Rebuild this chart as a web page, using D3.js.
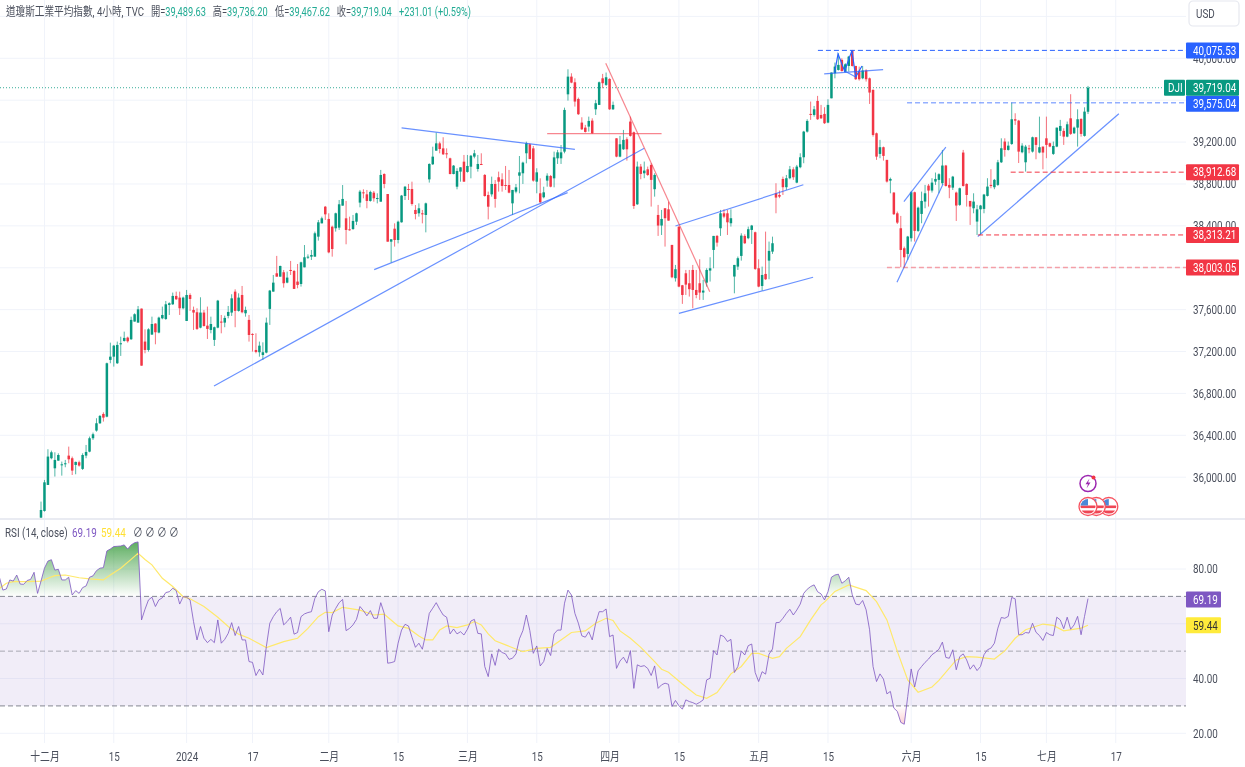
<!DOCTYPE html>
<html>
<head>
<meta charset="utf-8">
<script src="https://cdn.jsdelivr.net/npm/d3@7/dist/d3.min.js"></script>
<style>
  html, body { margin: 0; padding: 0; background: #fff; }
  svg { display: block; filter: blur(0.35px); }
  text { font-family: Roboto, "Noto Sans CJK TC", sans-serif; font-size: 12px; }
</style>
</head>
<body>
<svg id="chart" width="1245" height="767"></svg>
<script>
// candles, bar by bar
var opens = [
35614,35678,35926,36181,36085,36158,36114,36127,36206,36181,
36117,36143,36079,36206,36244,36372,36445,36515,36604,36578,
37120,37151,37088,37269,37301,37333,37317,37486,37476,37610,
37295,37215,37362,37467,37381,37517,37511,37645,37651,37731,
37715,37613,37492,37740,37597,37575,37428,37572,37447,37406,
37311,37428,37486,37476,37540,37572,37772,37588,37740,37565,
37502,37368,37215,37193,37167,37190,37607,37772,37947,37915,
37957,37858,37979,37969,37868,37845,38004,38096,38106,38106,
38297,38424,38583,38466,38392,38377,38383,38593,38472,38367,
38370,38440,38622,38720,38701,38638,38717,38660,38631,38895,
38704,38249,38373,38265,38434,38685,38752,38752,38552,38520,
38520,38504,38844,38988,39118,39188,39140,39093,39045,38895,
38774,38918,39013,38915,38965,39061,38943,38991,38886,38695,
38701,38800,38864,38844,38790,38790,38615,38727,38879,38902,
39093,39179,39140,38822,38711,38673,38832,38876,38854,39045,
39045,39109,39656,39825,39771,39612,39386,39338,39348,39405,
39513,39555,39809,39746,39803,39513,39236,39061,39131,39227,
39396,39294,38606,38966,38902,38940,38982,38750,38504,38403,
38568,38558,38218,37900,38393,37833,37947,37852,37979,37788,
37852,37763,37858,37973,38170,38304,38377,38520,38520,38425,
37916,38011,38113,38304,38282,38361,38339,37995,37826,37941,
38068,38154,38711,38695,38848,38769,38855,38940,38813,38960,
39055,39300,39469,39459,39593,39459,39469,39386,39618,39857,
39889,39985,39873,39927,40074,39927,39873,39809,39883,39809,
39698,39284,39087,39151,39030,38832,38718,38520,38377,38186,
38132,38282,38721,38352,38514,38632,38784,38737,38823,38839,
38807,38976,38791,38765,38718,38600,39100,38800,38638,38568,
38441,38558,38562,38686,38791,38769,38791,39007,39205,39125,
39182,39418,39405,39103,39007,39141,39109,39246,39100,39157,
39236,39189,39087,39157,39307,39307,39252,39427,39284,39338,
39421,39259,39489.63];
var highs = [
35767,35974,36267,36254,36238,36228,36149,36165,36292,36197,
36149,36158,36228,36308,36388,36426,36563,36594,36620,37094,
37285,37263,37295,37342,37390,37342,37533,37565,37635,37610,
37412,37422,37533,37470,37533,37629,37683,37670,37763,37772,
37772,37724,37788,37756,37629,37613,37718,37597,37629,37533,
37438,37693,37549,37543,37635,37747,37794,37756,37826,37629,
37549,37374,37374,37295,37288,37524,37788,37931,38113,38020,
37979,37963,38065,37979,38036,38058,38217,38128,38170,38345,
38456,38488,38590,38520,38402,38526,38647,38790,38638,38488,
38504,38526,38743,38749,38743,38736,38733,38711,38934,38902,
38704,38272,38424,38450,38695,38781,38800,38822,38599,38615,
38552,38622,38997,39156,39290,39204,39246,39140,39051,38981,
38950,38959,39077,39077,39077,39125,39077,39093,38895,38727,
38870,38838,38918,38902,38972,38934,38743,38800,39067,39013,
39204,39188,39163,38950,38854,38774,38902,38886,39109,39125,
39172,39529,39895,39857,39809,39625,39437,39364,39443,39427,
39603,39778,39851,39864,39809,39587,39236,39259,39316,39246,
39443,39300,39014,38991,39014,38966,38998,38902,38600,38552,
38568,38632,38218,38027,38393,37836,37979,37979,38027,37979,
38081,37884,37995,38100,38304,38313,38552,38558,38552,38558,
38027,38107,38329,38320,38393,38409,38345,38081,38011,38345,
38250,38297,38807,38737,38870,38886,38972,38960,38982,39093,
39307,39418,39587,39545,39641,39555,39533,39609,39864,39959,
40048,40000,39953,40023,40080,39927,39921,39927,39895,39816,
39704,39291,39221,39157,39030,38861,38721,38536,38495,38202,
38304,38734,38727,38584,38727,38791,38800,38855,38909,38902,
39125,38982,38855,38877,38727,38765,39125,38807,38638,38711,
38600,38600,38705,38855,38941,38848,39030,39236,39236,39205,
39577,39475,39412,39189,39173,39173,39252,39246,39443,39157,
39443,39195,39205,39338,39412,39332,39396,39657,39348,39513,
39427,39532,39736.2];
var lows = [
35608,35671,35926,36171,36006,36158,36015,36095,36133,36021,
36028,36101,36069,36181,36238,36356,36435,36508,36531,36572,
37088,37056,37081,37158,37295,37285,37311,37486,37476,37065,
37183,37199,37358,37269,37374,37508,37502,37549,37645,37693,
37549,37603,37492,37588,37406,37406,37422,37438,37320,37374,
37253,37422,37374,37432,37517,37540,37432,37581,37565,37533,
37295,37199,37183,37151,37120,37183,37454,37772,37915,37915,
37810,37852,37931,37798,37804,37820,38004,38084,38074,38106,
38259,38424,38456,38138,38106,38345,38361,38593,38224,38354,
38361,38408,38577,38663,38568,38631,38631,38615,38631,38759,
38249,38049,38202,38233,38431,38647,38647,38593,38462,38488,
38424,38338,38813,38981,39118,39093,39077,39045,38892,38892,
38749,38822,38822,38908,38854,39045,38918,38981,38679,38462,
38679,38574,38727,38727,38743,38711,38504,38711,38711,38800,
38997,39036,38822,38711,38615,38663,38774,38768,38768,38991,
38991,39093,39596,39762,39539,39459,39316,39291,39300,39278,
39459,39555,39714,39736,39507,39507,39055,39055,39125,39023,
39252,38562,38600,38845,38855,38877,38584,38679,38304,38313,
38202,38450,37900,37868,37814,37655,37740,37725,37613,37709,
37693,37693,37820,37868,37995,38202,38304,38473,38313,38393,
37756,37979,38068,38227,38272,38227,37979,37814,37782,37884,
37890,38132,38520,38664,38695,38743,38845,38839,38807,38950,
38998,39291,39412,39443,39412,39421,39373,39380,39618,39809,
39883,39873,39864,39873,39921,39794,39787,39800,39778,39564,
39252,39030,39046,39023,38813,38711,38504,38418,38005,38005,
38075,38250,38250,38342,38425,38568,38584,38718,38791,38711,
38791,38775,38664,38743,38447,38590,38775,38584,38409,38520,
38313,38313,38520,38680,38759,38750,38781,39000,39061,39119,
39173,39364,39000,39093,38918,39093,39100,39036,39093,38940,
39046,39151,39077,39151,39259,39173,39246,39268,39278,39157,
39252,39252,39467.62];
var closes = [
35687,35951,36197,36238,36165,36212,36123,36133,36171,36063,
36146,36111,36212,36241,36372,36410,36515,36585,36569,37088,
37151,37256,37263,37279,37330,37298,37502,37556,37603,37065,
37215,37412,37463,37384,37524,37549,37651,37661,37731,37699,
37613,37715,37740,37702,37572,37416,37572,37444,37416,37463,
37432,37686,37476,37521,37578,37708,37588,37715,37575,37597,
37358,37362,37196,37256,37193,37476,37782,37858,37915,38017,
37852,37906,37969,37798,37836,38052,38100,38106,38122,38329,
38434,38472,38510,38147,38179,38520,38606,38657,38361,38361,
38447,38520,38727,38711,38638,38724,38663,38666,38886,38800,
38249,38272,38265,38440,38689,38774,38743,38609,38513,38568,
38510,38615,38991,39061,39188,39134,39083,39083,38895,38975,
38924,38959,38822,38972,39070,39093,38991,38981,38685,38583,
38800,38657,38822,38781,38781,38717,38743,38768,38911,39004,
39188,39039,38832,38911,38625,38720,38879,38774,39054,39102,
39102,39507,39825,39768,39587,39466,39322,39297,39402,39284,
39571,39771,39762,39819,39513,39555,39061,39179,39221,39131,
39259,38590,38966,38896,38928,38886,38839,38886,38403,38466,
38473,38450,37909,37986,37820,37740,37839,37795,37788,37740,
37763,37782,37979,37995,38304,38240,38520,38488,38434,38473,
38027,38091,38307,38234,38368,38403,37989,37820,37931,37890,
38161,38234,38670,38679,38769,38855,38940,38864,38966,39055,
39300,39402,39459,39513,39418,39427,39380,39555,39864,39921,
39937,39879,39943,40016,39927,39800,39800,39883,39800,39673,
39268,39061,39151,39068,38823,38848,38511,38431,38170,38100,
38298,38721,38352,38574,38638,38711,38737,38813,38848,38893,
38976,38781,38765,38870,38594,38759,38781,38695,38584,38632,
38558,38594,38699,38775,38781,38839,39007,39141,39125,39166,
39418,39405,39109,39166,39157,39131,39246,39173,39151,39100,
39173,39157,39163,39338,39354,39252,39370,39278,39338,39418,
39278,39491,39719.04];

// rsi starts 12 bars before the first visible candle
var rsiFirstBar = -12;
var rsiValues = [
77.0,72.3,72.7,76.0,75.6,77.8,74.5,74.4,75.8,76.2,
78.8,71.1,75.6,80.3,82.9,83.4,79.6,79.9,76.0,76.0,
77.0,70.5,72.1,71.1,73.2,73.8,77.0,77.5,79.4,80.3,
80.5,86.6,87.3,88.2,88.3,88.4,88.8,87.3,88.8,89.6,
89.9,61.4,65.3,68.7,69.7,66.3,68.7,69.5,71.4,71.7,
73.0,72.1,67.2,69.9,69.7,68.7,60.8,54.1,59.0,54.7,
53.1,54.3,53.1,61.4,52.9,54.3,56.5,60.4,55.7,59.0,
54.1,54.1,46.2,45.9,41.1,43.4,41.3,51.7,60.2,62.6,
64.4,65.6,59.6,60.8,62.4,56.2,56.8,62.6,63.6,64.1,
64.4,69.3,71.7,72.6,72.0,57.1,63.2,65.6,67.7,68.9,
57.5,58.3,59.6,61.6,66.3,64.8,62.9,64.8,62.0,62.0,
67.7,63.8,45.6,45.8,46.2,52.9,57.7,59.8,59.2,55.1,
51.4,52.9,
50.7,56.5,63.8,65.7,67.7,65.3,63.2,62.4,56.3,58.1,
56.3,57.1,55.9,58.0,61.0,61.6,56.5,56.3,44.4,40.7,
49.0,44.8,50.7,49.5,49.0,47.0,47.4,49.0,54.5,57.5,
63.2,57.5,49.2,51.9,44.6,46.2,51.0,48.4,56.3,57.7,
57.7,67.5,72.3,70.5,63.8,60.2,55.6,55.1,57.1,54.1,
60.2,64.4,64.4,65.4,55.3,55.9,43.7,46.4,47.8,45.6,
50.2,36.4,45.0,44.4,44.7,43.7,41.1,44.6,36.4,37.7,
38.3,37.9,29.8,32.0,30.1,28.8,32.2,31.6,31.2,30.6,
31.3,32.2,39.5,40.1,50.2,48.6,55.9,55.3,53.5,54.3,
42.2,44.4,50.1,48.6,52.0,52.6,42.2,38.9,42.5,41.6,
48.9,50.8,60.4,60.5,62.0,63.8,65.3,63.2,65.0,67.2,
71.1,72.6,73.6,74.2,71.7,70.9,68.7,71.7,77.0,77.8,
78.1,
74.8,75.7,77.0,70.6,67.2,66.9,68.5,65.1,57.8,44.4,
38.9,41.7,39.8,34.4,35.3,29.2,28.0,24.0,23.3,33.4,
43.5,36.9,42.8,44.4,45.9,47.1,48.7,49.6,50.7,53.3,
47.7,47.4,50.5,43.2,48.0,49.0,46.8,43.4,45.0,42.9,
44.4,48.7,50.5,51.1,52.9,58.4,62.3,62.0,62.7,69.6,
69.1,56.0,56.0,56.8,56.6,60.2,56.9,55.7,53.9,56.8,
56.0,55.7,62.4,61.4,58.2,62.4,58.0,59.6,62.7,56.0,
62.7,69.19];

// yellow average, read at the bars where it bends
var maBars = [-12,-10,-8,-4,0,2,4,7,11,14,18,20,23,26,28,30,32,35,38,41,43,47,51,54,57,60,65,70,74,77,80,82,84,87,92,96,99,103,106,109,
111,113,115,117,120,123,125,127,129,131,134,139,143,147,150,153,157,160,163,165,167,170,173,177,179,181,185,189,192,195,199,202,205,207,211,213,215,219,222,225,
226,229,233,238,241,244,247,250,253,257,259,264,267,270,275,278,281,284,289,292,295,300,302];
var maValues = [72.9,74.8,75.4,75.4,75.6,76.6,77.6,77.8,76.8,76.4,76.0,77.8,80.3,83.5,85.7,83.5,81.5,76.6,73.6,69.9,69.1,66.3,62.4,59.0,56.2,54.7,51.3,53.5,54.7,58.3,62.6,64.2,64.1,66.0,65.0,63.2,63.5,59.2,58.3,55.5,
54.1,54.1,57.7,59.2,58.6,59.6,60.8,59.6,56.3,53.8,52.3,49.8,51.0,51.4,54.1,56.8,57.4,60.2,62.0,61.2,57.4,54.7,51.4,46.2,43.4,42.3,38.0,34.0,32.8,34.9,41.7,44.4,49.2,49.2,47.4,48.0,51.0,55.3,61.4,66.9,
67.9,71.8,74.2,72.1,68.1,61.4,49.9,39.5,35.0,36.9,39.3,46.8,48.0,47.8,47.1,50.1,54.7,57.8,59.9,59.4,57.4,58.4,59.44];

var priceGrid = [36000,36400,36800,37200,37600,38000,38400,38800,39200,39600,40000,40400];
var priceLabels = [36000,36400,36800,37200,37600,38400,38800,39200,40000];
var rsiGrid = [20,40,60,80];
var rsiLabels = [20,40,80];
var rsiBands = [30,50,70];
var timeBars = [1,21,42,61,83,103,123,143,164,184,207,227,251,271,290,310];
var timeLabels = ["十二月","15","2024","17","二月","15","三月","15","四月","15","五月","15","六月","15","七月","17"];

// drawings: bar, price, bar, price
var blueLines = [
  [49.9,36871,174,39141],
  [96.1,37982,151.9,38717],
  [104,39335,154,39131],
  [183,38399,219.9,38793],
  [184,37565,222.7,37909],
  [225.9,39851,242.9,39892],
  [248.9,38631,261,39151],
  [246.9,37861,260.2,38800],
  [270.2,38299,310.9,39471],
  [231.8,39879,235,39822]
];
var redLines = [
  [146,39280,179,39280],
  [162.9,39953,192.9,37772]
];
var patternBars = [228.9,229.9,231.8,233.9,235,236.8];
var patternPrices = [39860,40042,39879,40073,39822,39927];

var levelPrices = [40075.53,39575.04,38912.68,38313.21,38003.05];
var levelStart = [224.1,249.8,279.7,270.3,244];
var levelColors = ["#2962ff","#2962ff","#f23645","#f23645","#f23645"];
var levelOpacity = [1,0.5,1,1,0.45];
var levelWidth = [1,1.5,1,1,1.5];

var lastPrice = 39719.04, lastRsi = 69.19, lastMa = 59.44;
var eventBars = [302,304.4,308];

var upColor = "#089981", downColor = "#f23645", gridColor = "#f0f3fa";
var textColor = "#4a4f5c";
var paneRight = 1186, tagRight = 1239;

var svg = d3.select("#chart");
var defs = svg.append("defs");

var x = d3.scaleLinear().domain([0,302]).range([41,1088]);
var y = d3.scaleLinear().domain([36000,40000]).range([477.2,58.3]);
var yRsi = d3.scaleLinear().domain([20,80]).range([733.3,569]);

// the text in the reference is narrower than the font, squeeze it
function squeeze(sel, k) {
  sel.each(function() {
    var w = this.getComputedTextLength();
    this.setAttribute("textLength", w * (k || 0.82));
    this.setAttribute("lengthAdjust", "spacingAndGlyphs");
  });
  return sel;
}

defs.append("clipPath").attr("id","clip-price").append("rect")
  .attr("x",0).attr("y",0).attr("width",paneRight).attr("height",518);
defs.append("clipPath").attr("id","clip-over").append("rect")
  .attr("x",0).attr("y",520).attr("width",paneRight).attr("height",yRsi(70)-520);
defs.append("clipPath").attr("id","clip-under").append("rect")
  .attr("x",0).attr("y",yRsi(30)).attr("width",paneRight).attr("height",743-yRsi(30));

var gradOver = defs.append("linearGradient").attr("id","grad-over")
  .attr("gradientUnits","userSpaceOnUse").attr("x1",0).attr("x2",0).attr("y1",yRsi(92)).attr("y2",yRsi(70));
gradOver.append("stop").attr("offset",0).attr("stop-color","#43a047").attr("stop-opacity",0.95);
gradOver.append("stop").attr("offset",1).attr("stop-color","#43a047").attr("stop-opacity",0);
var gradUnder = defs.append("linearGradient").attr("id","grad-under")
  .attr("gradientUnits","userSpaceOnUse").attr("x1",0).attr("x2",0).attr("y1",yRsi(30)).attr("y2",yRsi(20));
gradUnder.append("stop").attr("offset",0).attr("stop-color","#f23645").attr("stop-opacity",0);
gradUnder.append("stop").attr("offset",1).attr("stop-color","#f23645").attr("stop-opacity",0.35);

// grid
var grid = svg.append("g").attr("stroke",gridColor).attr("stroke-width",1);
grid.selectAll(".v").data(timeBars).enter().append("line")
  .attr("x1",function(d){return x(d);}).attr("x2",function(d){return x(d);})
  .attr("y1",0).attr("y2",743);
grid.selectAll(".h").data(priceGrid).enter().append("line")
  .attr("x1",0).attr("x2",paneRight)
  .attr("y1",function(d){return y(d);}).attr("y2",function(d){return y(d);});
grid.selectAll(".r").data(rsiGrid).enter().append("line")
  .attr("x1",0).attr("x2",paneRight)
  .attr("y1",function(d){return yRsi(d);}).attr("y2",function(d){return yRsi(d);});

svg.append("line").attr("x1",0).attr("x2",1245).attr("y1",519).attr("y2",519)
  .attr("stroke","#e9ebf2").attr("stroke-width",2);

// last price dotted line
svg.append("line").attr("x1",0).attr("x2",1164).attr("y1",y(lastPrice)).attr("y2",y(lastPrice))
  .attr("stroke",upColor).attr("stroke-dasharray","1,2").attr("stroke-opacity",0.8);

// candles
var priceLayer = svg.append("g").attr("clip-path","url(#clip-price)");
var candles = priceLayer.selectAll(".candle").data(closes).enter().append("g");
candles.append("line")
  .attr("x1",function(d,i){return x(i);}).attr("x2",function(d,i){return x(i);})
  .attr("y1",function(d,i){return y(highs[i]);}).attr("y2",function(d,i){return y(lows[i]);})
  .attr("stroke",function(d,i){return d>=opens[i]?upColor:downColor;})
  .attr("stroke-width",1).attr("stroke-opacity",0.7);
candles.append("rect")
  .attr("x",function(d,i){return x(i)-1.25;}).attr("width",2.5)
  .attr("y",function(d,i){return y(Math.max(d,opens[i]));})
  .attr("height",function(d,i){return Math.max(1,Math.abs(y(d)-y(opens[i])));})
  .attr("fill",function(d,i){return d>=opens[i]?upColor:downColor;});

// drawings
function drawSegments(list, color, opacity) {
  priceLayer.selectAll(null).data(list).enter().append("line")
    .attr("x1",function(d){return x(d[0]);}).attr("y1",function(d){return y(d[1]);})
    .attr("x2",function(d){return x(d[2]);}).attr("y2",function(d){return y(d[3]);})
    .attr("stroke",color).attr("stroke-opacity",opacity).attr("stroke-width",1.2);
}
drawSegments(blueLines,"#2962ff",0.7);
drawSegments(redLines,"#f23645",0.6);

var patternLine = d3.line().x(function(d,i){return x(patternBars[i]);}).y(function(d){return y(d);});
priceLayer.append("path").attr("d",patternLine(patternPrices))
  .attr("fill","none").attr("stroke","#2962ff").attr("stroke-width",1.2);

priceLayer.selectAll(".level").data(levelPrices).enter().append("line")
  .attr("x1",function(d,i){return x(levelStart[i]);}).attr("x2",paneRight)
  .attr("y1",function(d){return y(d);}).attr("y2",function(d){return y(d);})
  .attr("stroke",function(d,i){return levelColors[i];})
  .attr("stroke-opacity",function(d,i){return levelOpacity[i];})
  .attr("stroke-width",function(d,i){return levelWidth[i];})
  .attr("stroke-dasharray","5,3");

// rsi pane
svg.append("rect").attr("x",0).attr("width",paneRight)
  .attr("y",yRsi(70)).attr("height",yRsi(30)-yRsi(70))
  .attr("fill","#7e57c2").attr("fill-opacity",0.11);
svg.selectAll(".band").data(rsiBands).enter().append("line")
  .attr("x1",0).attr("x2",paneRight)
  .attr("y1",function(d){return yRsi(d);}).attr("y2",function(d){return yRsi(d);})
  .attr("stroke","#787b86").attr("stroke-opacity",function(d){return d==50?0.6:0.9;})
  .attr("stroke-dasharray","5,3");

var rsiX = function(d,i){return x(i+rsiFirstBar);};
svg.append("path").attr("clip-path","url(#clip-over)").attr("fill","url(#grad-over)")
  .attr("d",d3.area().x(rsiX).y0(yRsi(70)).y1(function(d){return yRsi(d);})(rsiValues));
svg.append("path").attr("clip-path","url(#clip-under)").attr("fill","url(#grad-under)")
  .attr("d",d3.area().x(rsiX).y0(yRsi(30)).y1(function(d){return yRsi(d);})(rsiValues));
svg.append("path").attr("fill","none").attr("stroke","#ffe96b").attr("stroke-width",1.2)
  .attr("d",d3.line().x(function(d,i){return x(maBars[i]);}).y(function(d){return yRsi(d);})(maValues));
svg.append("path").attr("fill","none").attr("stroke","#7e57c2").attr("stroke-width",1)
  .attr("stroke-opacity",0.8)
  .attr("d",d3.line().x(rsiX).y(function(d){return yRsi(d);})(rsiValues));

// axes
function styleAxis(g) {
  g.select(".domain").remove();
  g.selectAll("line").remove();
  g.selectAll("text").attr("fill",textColor).style("font-size","12px");
  squeeze(g.selectAll("text"));
}
svg.append("g").attr("transform","translate("+paneRight+",0)")
  .call(d3.axisRight(y).tickValues(priceLabels).tickSize(0).tickPadding(7).tickFormat(d3.format(",.2f")))
  .call(styleAxis);
svg.append("g").attr("transform","translate("+paneRight+",0)")
  .call(d3.axisRight(yRsi).tickValues(rsiLabels).tickSize(0).tickPadding(7).tickFormat(d3.format(".2f")))
  .call(styleAxis);
svg.append("g").attr("transform","translate(0,745)")
  .call(d3.axisBottom(x).tickValues(timeBars).tickSize(0).tickPadding(7)
    .tickFormat(function(d,i){return timeLabels[i];}))
  .call(styleAxis);

// price tags
function addTag(cy, color, textFill, left, right, label, pad) {
  svg.append("rect").attr("x",left).attr("y",cy-8).attr("width",right-left).attr("height",16)
    .attr("fill",color).attr("rx",1);
  squeeze(svg.append("text").attr("x",left+pad).attr("y",cy+4.2).attr("fill",textFill).text(label));
}
levelPrices.forEach(function(p,i){
  var cy = y(p);
  if (i==1) cy = y(lastPrice)+16;
  addTag(cy,levelColors[i],"#fff",paneRight,tagRight,d3.format(",.2f")(p),7);
});
addTag(y(lastPrice),upColor,"#fff",paneRight,tagRight,d3.format(",.2f")(lastPrice),7);
addTag(y(lastPrice),upColor,"#fff",1164,1185,"DJI",4);
addTag(yRsi(lastRsi)+1,"#7e57c2","#fff",paneRight,1221,d3.format(".2f")(lastRsi),7);
addTag(yRsi(lastMa),"#ffeb3b","#333",paneRight,1221,d3.format(".2f")(lastMa),7);

// currency button
svg.append("rect").attr("x",1189).attr("y",1).attr("width",50).attr("height",25).attr("rx",4)
  .attr("fill","#fff").attr("stroke","#e6e8ef").attr("stroke-width",1.2);
squeeze(svg.append("text").attr("x",1196).attr("y",18).attr("fill",textColor).text("USD"));

// header
var headerNames = ["道瓊斯工業平均指數, 4小時, TVC","開=","高=","低=","收=",""];
var headerValues = ["","39,489.63","39,736.20","39,467.62","39,719.04","+231.01 (+0.59%)"];
var headerX = [6,151,212.7,275,336.7,399];
var headerWidth = [138,55,55,55,55,72];
var head = svg.selectAll(".head").data(headerNames).enter().append("text")
  .attr("x",function(d,i){return headerX[i];}).attr("y",15.7)
  .attr("textLength",function(d,i){return headerWidth[i];})
  .attr("lengthAdjust","spacingAndGlyphs");
head.append("tspan").attr("fill",textColor).text(function(d){return d;});
head.append("tspan").attr("fill","#22ab94").text(function(d,i){return headerValues[i];});

// rsi legend
var legendTexts = ["RSI (14, close)","69.19","59.44","∅","∅","∅","∅"];
var legendX = [5,72,101,133,145,157,169];
var legendColors = [textColor,"#7e57c2","#ffe033",textColor,textColor,textColor,textColor];
squeeze(svg.selectAll(".legend").data(legendTexts).enter().append("text")
  .attr("x",function(d,i){return legendX[i];}).attr("y",537)
  .attr("fill",function(d,i){return legendColors[i];})
  .text(function(d){return d;}));

// event icons above the separator
var cx0 = x(eventBars[0]);
svg.append("circle").attr("cx",cx0).attr("cy",483.5).attr("r",8)
  .attr("fill","#fff").attr("stroke","#9c27b0").attr("stroke-width",1.5);
svg.append("path").attr("transform","translate("+cx0+",483.5)")
  .attr("d","M1.5,-5 L-2.5,0.8 L0,0.8 L-1.5,5 L2.5,-1 L0,-1 Z").attr("fill","#9c27b0");
svg.append("circle").attr("cx",cx0+5.5).attr("cy",477.5).attr("r",2).attr("fill","#f23645");

var flags = svg.selectAll(".flag").data(eventBars.slice().reverse()).enter().append("g")
  .attr("transform",function(d){return "translate("+x(d)+",506.5)";});
defs.append("clipPath").attr("id","clip-flag").append("circle").attr("r",7.5);
flags.append("circle").attr("r",9).attr("fill","#fff").attr("stroke","#f7525f").attr("stroke-width",1.3);
var flagBody = flags.append("g").attr("clip-path","url(#clip-flag)");
flagBody.append("rect").attr("x",-8).attr("y",-8).attr("width",16).attr("height",16).attr("fill","#fff");
flagBody.append("rect").attr("x",-8).attr("y",-1).attr("width",16).attr("height",2.6).attr("fill","#ef4655");
flagBody.append("rect").attr("x",-8).attr("y",4).attr("width",16).attr("height",3).attr("fill","#ef4655");
flagBody.append("rect").attr("x",-8).attr("y",-8).attr("width",8).attr("height",7).attr("fill","#4a88d8");
</script>
</body>
</html>
